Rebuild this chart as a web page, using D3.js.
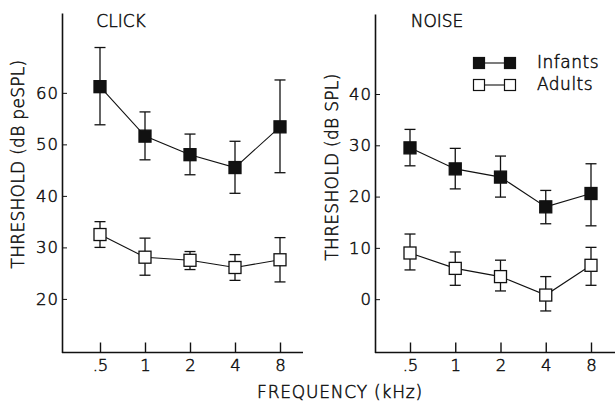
<!DOCTYPE html>
<html>
<head>
<meta charset="utf-8">
<script src="https://cdn.jsdelivr.net/npm/d3@7"></script>
<style>
  body { margin: 0; background: #fff; }
  text { font-family: "DejaVu Sans", sans-serif; font-weight: 200; fill: #111; stroke: #111; stroke-width: 0.5px; }
</style>
</head>
<body>
<div id="chart"></div>
<script>
// frequencies (kHz)
const freqs = [".5", "1", "2", "4", "8"];

// CLICK panel, dB peSPL
const clickInfMean = [61.2, 51.6, 48.0, 45.5, 53.4];
const clickInfLo   = [53.8, 47.0, 44.1, 40.5, 44.5];
const clickInfHi   = [68.8, 56.3, 52.0, 50.6, 62.5];
const clickAdMean  = [32.5, 28.1, 27.5, 26.1, 27.6];
const clickAdLo    = [30.0, 24.6, 25.7, 23.6, 23.3];
const clickAdHi    = [35.0, 31.8, 29.2, 28.6, 31.9];

// NOISE panel, dB SPL
const noiseInfMean = [29.5, 25.4, 23.8, 18.0, 20.6];
const noiseInfLo   = [26.0, 21.5, 19.9, 14.7, 14.3];
const noiseInfHi   = [33.1, 29.4, 27.9, 21.2, 26.4];
const noiseAdMean  = [9.0, 6.0, 4.4, 0.8, 6.6];
const noiseAdLo    = [5.7, 2.7, 1.6, -2.3, 2.7];
const noiseAdHi    = [12.7, 9.2, 7.6, 4.4, 10.1];

const clickTicks = [20, 30, 40, 50, 60];
const noiseTicks = [0, 10, 20, 30, 40];

const width = 615, height = 401;

const svg = d3.select("#chart").append("svg")
  .attr("width", width)
  .attr("height", height);

const series = (mean, lo, hi) => freqs.map((f, i) => ({ f, v: mean[i], lo: lo[i], hi: hi[i] }));

const panels = [
  {
    title: "CLICK", ytitle: "THRESHOLD (dB peSPL)",
    x0: 62, x1: 303, xr: [100, 280], yd: [9.6, 75.5], top: 13,
    ticks: clickTicks, titleX: 121, ytX: 24, ytY: 164,
    inf: series(clickInfMean, clickInfLo, clickInfHi),
    ad: series(clickAdMean, clickAdLo, clickAdHi)
  },
  {
    title: "NOISE", ytitle: "THRESHOLD (dB SPL)",
    x0: 375, x1: 615, xr: [410, 591], yd: [-10.4, 55.6], top: 14,
    ticks: noiseTicks, titleX: 437, ytX: 338, ytY: 167,
    inf: series(noiseInfMean, noiseInfLo, noiseInfHi),
    ad: series(noiseAdMean, noiseAdLo, noiseAdHi)
  }
];

const yBottom = 352.5;
const sq = 12;

panels.forEach(p => {
  const x = d3.scalePoint().domain(freqs).range(p.xr);
  const y = d3.scaleLinear().domain(p.yd).range([yBottom, p.top]);
  const g = svg.append("g");

  // y axis (ticks point inward)
  const ya = g.append("g")
    .attr("transform", `translate(${p.x0},0)`)
    .call(d3.axisLeft(y).tickValues(p.ticks).tickSizeInner(-5).tickSizeOuter(0).tickPadding(3));
  ya.select(".domain").attr("stroke", "#111").attr("stroke-width", 1.6);
  ya.selectAll(".tick line").attr("stroke", "#111").attr("stroke-width", 1);
  ya.selectAll("text").style("font-size", "16.5px").style("letter-spacing", "1px")
    .style("font-family", "DejaVu Sans").style("font-weight", 200).attr("fill", "#111");

  // x axis (ticks point upward)
  const xa = g.append("g")
    .attr("transform", `translate(0,${yBottom})`)
    .call(d3.axisBottom(x).tickSizeInner(-10).tickSizeOuter(0).tickPadding(7));
  xa.select(".domain").remove();
  xa.selectAll(".tick line").attr("stroke", "#111").attr("stroke-width", 1.4);
  xa.selectAll("text").style("font-size", "16.5px").style("font-family", "DejaVu Sans")
    .style("font-weight", 200).attr("fill", "#111");
  g.append("line")
    .attr("x1", p.x0).attr("x2", p.x1)
    .attr("y1", yBottom).attr("y2", yBottom)
    .attr("stroke", "#111").attr("stroke-width", 1.6);

  // panel title
  g.append("text")
    .attr("x", p.titleX).attr("y", 27)
    .attr("text-anchor", "middle")
    .style("font-size", "17px")
    .text(p.title);

  // y title
  g.append("text")
    .attr("transform", `translate(${p.ytX},${p.ytY}) rotate(-90)`)
    .attr("text-anchor", "middle")
    .style("font-size", "17px")
    .style("letter-spacing", "0.3px")
    .text(p.ytitle);

  const line = d3.line().x(d => x(d.f)).y(d => y(d.v));

  [[p.ad, "#fff"], [p.inf, "#111"]].forEach(([data, fill]) => {
    const s = g.append("g");
    // error bars
    s.selectAll("line.err").data(data).join("line")
      .attr("class", "err")
      .attr("x1", d => x(d.f)).attr("x2", d => x(d.f))
      .attr("y1", d => y(d.lo)).attr("y2", d => y(d.hi))
      .attr("stroke", "#111").attr("stroke-width", 1.3);
    s.selectAll("line.cap").data(data.flatMap(d => [[d.f, d.lo], [d.f, d.hi]])).join("line")
      .attr("class", "cap")
      .attr("x1", d => x(d[0]) - 5.5).attr("x2", d => x(d[0]) + 5.5)
      .attr("y1", d => y(d[1])).attr("y2", d => y(d[1]))
      .attr("stroke", "#111").attr("stroke-width", 1.3);
    // connecting line
    s.append("path").datum(data)
      .attr("d", line).attr("fill", "none")
      .attr("stroke", "#111").attr("stroke-width", 1.1);
    // markers
    s.selectAll("rect").data(data).join("rect")
      .attr("x", d => x(d.f) - sq / 2).attr("y", d => y(d.v) - sq / 2)
      .attr("width", sq).attr("height", sq)
      .attr("fill", fill).attr("stroke", "#111").attr("stroke-width", 1.3);
  });
});

// legend
const legendItems = [
  { label: "Infants", fill: "#111", y: 63 },
  { label: "Adults", fill: "#fff", y: 85 }
];
const lg = svg.append("g");
legendItems.forEach(it => {
  lg.append("line")
    .attr("x1", 479).attr("x2", 510).attr("y1", it.y).attr("y2", it.y)
    .attr("stroke", "#111").attr("stroke-width", 1.1);
  [479, 510].forEach(cx => {
    lg.append("rect")
      .attr("x", cx - 5.5).attr("y", it.y - 5.5)
      .attr("width", 11).attr("height", 11)
      .attr("fill", it.fill).attr("stroke", "#111").attr("stroke-width", 1.2);
  });
  lg.append("text")
    .attr("x", 537).attr("y", it.y + 5)
    .style("font-size", "17px")
    .style("letter-spacing", "0.5px")
    .text(it.label);
});

// shared x title
svg.append("text")
  .attr("x", 340).attr("y", 398)
  .attr("text-anchor", "middle")
  .style("font-size", "17px")
  .style("letter-spacing", "0.8px")
  .text("FREQUENCY (kHz)");
</script>
</body>
</html>
